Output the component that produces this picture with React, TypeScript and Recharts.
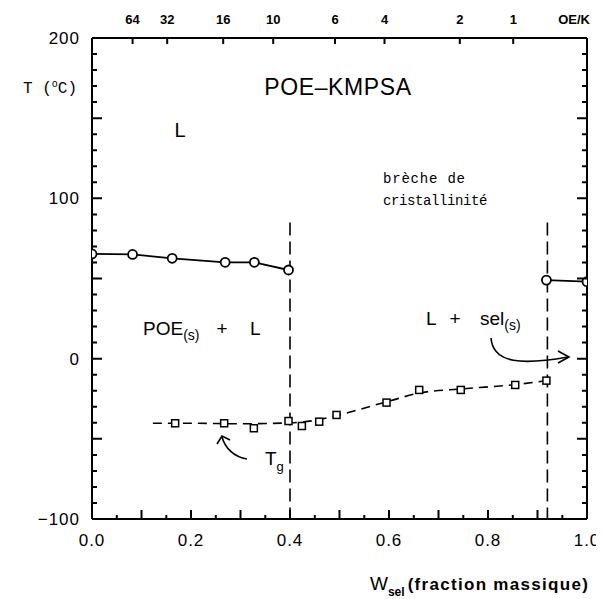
import React from "react";
import { ComposedChart, Line, XAxis, YAxis, ReferenceLine } from "recharts";

// ---- data ----
const meltLeftW = [0.0, 0.082, 0.162, 0.269, 0.328, 0.397];
const meltLeftT = [65.3, 65.0, 62.6, 60.1, 60.1, 55.3];
const meltRightW = [0.918, 1.0];
const meltRightT = [49, 48];
const tgW = [0.168, 0.267, 0.327, 0.397, 0.424, 0.459, 0.494, 0.595, 0.661, 0.745, 0.855, 0.918];
const tgT = [-40.3, -40.3, -43.4, -38.9, -42.0, -39.3, -35.1, -27.4, -19.5, -19.5, -16.4, -13.7];
const tgCurveW = [0.123, 0.2, 0.3, 0.4, 0.45, 0.5, 0.6, 0.66, 0.75, 0.86, 0.918];
const tgCurveT = [-40.3, -40.3, -40.6, -40.0, -38.5, -35.0, -26.5, -21.5, -18.8, -16.0, -13.7];
const boundaryW = [0.4, 0.92];
const boundaryTop = 85;

const bottomTicks = [0, 0.05, 0.1, 0.15, 0.2, 0.25, 0.3, 0.35, 0.4, 0.45, 0.5, 0.55, 0.6, 0.65, 0.7, 0.75, 0.8, 0.85, 0.9, 0.95, 1.0];
const bottomLabels = ["0.0", "0.2", "0.4", "0.6", "0.8", "1.0"];
const bottomLabelValues = [0, 0.2, 0.4, 0.6, 0.8, 1.0];
const topTicks = [0.082, 0.152, 0.265, 0.366, 0.491, 0.591, 0.743, 0.851, 0.974];
const topLabels = ["64", "32", "16", "10", "6", "4", "2", "1", "OE/K"];
const yTicks = [-100, -90, -80, -70, -60, -50, -40, -30, -20, -10, 0, 10, 20, 30, 40, 50, 60, 70, 80, 90, 100, 110, 120, 130, 140, 150, 160, 170, 180, 190, 200];
const yLabelValues = [-100, 0, 100, 200];
const yLabels = ["\u2212100", "0", "100", "200"];

const toRows = (ws: number[], ts: number[]) => ws.map((w, i) => ({ w, T: ts[i] }));
const meltLeft = toRows(meltLeftW, meltLeftT);
const meltRight = toRows(meltRightW, meltRightT);
const tgPoints = toRows(tgW, tgT);
const tgCurve = toRows(tgCurveW, tgCurveT);

const W = 596;
const H = 591;
const MARGIN = { top: 10, right: 7, bottom: 30, left: 40 };
const XB_H = 50;
const XT_H = 20;
const YL_W = 44;
const YR_W = 10;
const PL = MARGIN.left + YL_W;
const PR = W - MARGIN.right - YR_W;
const PT = MARGIN.top + XT_H;
const PB = H - MARGIN.bottom - XB_H;
const px = (w: number) => PL + w * (PR - PL);
const py = (t: number) => PB - ((t + 100) / 300) * (PB - PT);

const FONT_TICK = "'Liberation Sans', Arial, sans-serif";
const near = (a: number, b: number) => Math.abs(a - b) < 1e-6;

const BottomTick = (p: any) => {
  const v = p.payload.value;
  const li = bottomLabelValues.findIndex((b) => near(b, v));
  if (li < 0) return <g />;
  return (
    <text x={p.x} y={p.y + 21} dy="0.35em" textAnchor="middle" fontFamily={FONT_TICK} fontSize={17} letterSpacing={1} fill="#000">
      {bottomLabels[li]}
    </text>
  );
};

const TopTick = (p: any) => {
  const v = p.payload.value;
  const i = topTicks.findIndex((t) => near(t, v));
  return (
    <text x={p.x} y={p.y - 19} dy="0.35em" textAnchor="middle" fontFamily={FONT_TICK} fontSize={13} fontWeight={700} fill="#000">
      {topLabels[i]}
    </text>
  );
};

const LeftTick = (p: any) => {
  const v = p.payload.value;
  const li = yLabelValues.indexOf(v);
  if (li < 0) return <g />;
  return (
    <text x={p.x - 12} y={p.y} dy="0.35em" textAnchor="end" fontFamily={FONT_TICK} fontSize={17} letterSpacing={1} fill="#000">
      {yLabels[li]}
    </text>
  );
};

const NoTick = () => <g />;

const CircleDot = (p: any) => (
  <circle key={`c${p.index}`} cx={p.cx} cy={p.cy} r={4.5} fill="#fff" stroke="#000" strokeWidth={1.8} />
);
const SquareDot = (p: any) => (
  <rect key={`s${p.index}`} x={p.cx - 3.5} y={p.cy - 3.5} width={7} height={7} fill="#fff" stroke="#000" strokeWidth={1.5} />
);

const SANS = "'Liberation Sans', Arial, sans-serif";
const MONO = "'Liberation Mono', 'DejaVu Sans Mono', monospace";

function frameTickPath(): string {
  let d = "";
  bottomTicks.forEach((v) => {
    const major = near(v * 10, Math.round(v * 10));
    d += `M${px(v).toFixed(1)},${PB} V${PB - (major ? 9 : 4)} `;
  });
  topTicks.forEach((v, i) => {
    if (topLabels[i] === "OE/K") return;
    d += `M${px(v).toFixed(1)},${PT} V${PT + 6} `;
  });
  yTicks.forEach((v) => {
    const len = v % 50 === 0 ? 10 : 5;
    const y = py(v).toFixed(1);
    d += `M${PL},${y} H${PL + len} M${PR},${y} H${PR - len} `;
  });
  return d;
}

export default function App() {
  const ticksD = frameTickPath();
  return (
    <div style={{ position: "relative", width: W, height: H, background: "#fff" }}>
      <ComposedChart width={W} height={H} margin={MARGIN}>
        <XAxis
          xAxisId="b"
          dataKey="w"
          type="number"
          domain={[0, 1]}
          allowDataOverflow
          ticks={bottomTicks}
          interval={0}
          tickSize={0}
          tickMargin={0}
          height={XB_H}
          axisLine={{ stroke: "#000", strokeWidth: 2 }}
          tickLine={false}
          tick={BottomTick}
        />
        <XAxis
          xAxisId="t"
          orientation="top"
          dataKey="w"
          type="number"
          domain={[0, 1]}
          allowDataOverflow
          ticks={topTicks}
          interval={0}
          tickSize={0}
          tickMargin={0}
          height={XT_H}
          axisLine={{ stroke: "#000", strokeWidth: 2 }}
          tickLine={false}
          tick={TopTick}
        />
        <YAxis
          yAxisId="l"
          type="number"
          domain={[-100, 200]}
          allowDataOverflow
          ticks={yTicks}
          interval={0}
          tickSize={0}
          tickMargin={0}
          width={YL_W}
          axisLine={{ stroke: "#000", strokeWidth: 2 }}
          tickLine={false}
          tick={LeftTick}
        />
        <YAxis
          yAxisId="r"
          orientation="right"
          type="number"
          domain={[-100, 200]}
          allowDataOverflow
          ticks={yTicks}
          interval={0}
          tickSize={0}
          tickMargin={0}
          width={YR_W}
          axisLine={{ stroke: "#000", strokeWidth: 2 }}
          tickLine={false}
          tick={NoTick}
        />
        {boundaryW.map((bw) => (
          <ReferenceLine
            key={bw}
            xAxisId="b"
            yAxisId="l"
            segment={[{ x: bw, y: boundaryTop }, { x: bw, y: -100 }]}
            stroke="#000"
            strokeWidth={1.6}
            strokeDasharray="13 6"
          />
        ))}
        <Line xAxisId="b" yAxisId="r" data={tgCurve} dataKey="T" type="monotone" stroke="#000" strokeWidth={1.6} strokeDasharray="9 6" dot={false} isAnimationActive={false} />
        <Line xAxisId="t" yAxisId="l" data={tgPoints} dataKey="T" type="linear" stroke="none" dot={SquareDot} isAnimationActive={false} />
        <Line xAxisId="b" yAxisId="l" data={meltLeft} dataKey="T" type="linear" stroke="#000" strokeWidth={1.8} dot={CircleDot} isAnimationActive={false} />
        <Line xAxisId="b" yAxisId="l" data={meltRight} dataKey="T" type="linear" stroke="#000" strokeWidth={1.8} dot={CircleDot} isAnimationActive={false} />
      </ComposedChart>
      <svg width={W} height={H} viewBox={`0 0 ${W} ${H}`} style={{ position: "absolute", left: 0, top: 0, pointerEvents: "none" }}>
        <path d={ticksD} fill="none" stroke="#000" strokeWidth={2} />
        <text x={15} y={85} fontFamily={MONO} fontSize={16} fill="#000">
          T (<tspan dy={-6} fontSize={10}>o</tspan><tspan dy={6}>C)</tspan>
        </text>
        <text x={330} y={87} textAnchor="middle" fontFamily={SANS} fontSize={23} letterSpacing={0.6} fill="#000">POE–KMPSA</text>
        <text x={172} y={129} textAnchor="middle" fontFamily={SANS} fontSize={20} fill="#000">L</text>
        <text x={375} y={175} fontFamily={MONO} fontSize={14} letterSpacing={0.8} fill="#000">brèche de</text>
        <text x={375} y={197} fontFamily={MONO} fontSize={14} letterSpacing={-0.4} fill="#000">cristallinité</text>
        <text x={135} y={327} fontFamily={SANS} fontSize={19} fill="#000">
          POE<tspan dy={5} fontSize={14}>(s)</tspan>
        </text>
        <text x={214} y={327} textAnchor="middle" fontFamily={SANS} fontSize={19} fill="#000">+</text>
        <text x={242} y={327} fontFamily={SANS} fontSize={19} fill="#000">L</text>
        <text x={418} y={317} fontFamily={SANS} fontSize={19} fill="#000">L</text>
        <text x={447} y={317} textAnchor="middle" fontFamily={SANS} fontSize={19} fill="#000">+</text>
        <text x={472} y={317} fontFamily={SANS} fontSize={19} fill="#000">
          sel<tspan dy={5} fontSize={14}>(s)</tspan>
        </text>
        <text x={257} y={457} fontFamily={SANS} fontSize={19} fill="#000">
          T<tspan dy={6} fontSize={13}>g</tspan>
        </text>
        <path d="M483,330 C485,356 515,357 560,349" fill="none" stroke="#000" strokeWidth={1.6} />
        <path d="M550,343 L561,349 L550,355" fill="none" stroke="#000" strokeWidth={1.6} />
        <path d="M239,451 C226,449 217,440 214,429" fill="none" stroke="#000" strokeWidth={1.6} />
        <path d="M209,436 L214,428 L222,432" fill="none" stroke="#000" strokeWidth={1.6} />
        <text x={362} y={582} fontFamily={SANS} fontSize={19} fill="#000">
          W<tspan dy={6} fontSize={12} fontWeight={700}>sel</tspan>
          <tspan dy={-6} dx={3} fontSize={17} fontWeight={600} letterSpacing={1.3}>(fraction massique)</tspan>
        </text>
      </svg>
    </div>
  );
}
